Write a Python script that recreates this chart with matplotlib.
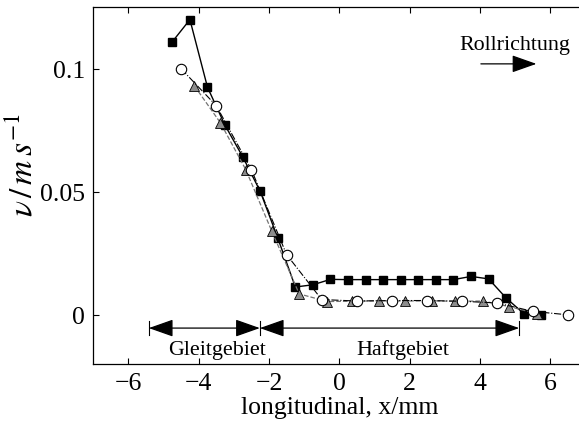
import matplotlib
matplotlib.use("Agg")
import matplotlib.pyplot as plt
import numpy as np

# measured velocities along the contact patch
sq_x = [-4.75, -4.25, -3.75, -3.25, -2.75, -2.25, -1.75, -1.25, -0.75, -0.25,
        0.25, 0.75, 1.25, 1.75, 2.25, 2.75, 3.25, 3.75, 4.25, 4.75, 5.25, 5.75]
sq_y = [0.111, 0.120, 0.0925, 0.077, 0.0643, 0.0502, 0.0312, 0.0113, 0.0122, 0.0144,
        0.0143, 0.0143, 0.0143, 0.0143, 0.0143, 0.0143, 0.0143, 0.0156, 0.0146, 0.0068,
        0.0005, 0.0]

ci_x = [-4.5, -3.5, -2.5, -1.5, -0.5, 0.5, 1.5, 2.5, 3.5, 4.5, 5.5, 6.5]
ci_y = [0.100, 0.085, 0.059, 0.0245, 0.0062, 0.0056, 0.0058, 0.0058, 0.0055, 0.0048,
        0.0014, 0.0]

tr_x = [-4.12, -3.38, -2.66, -1.92, -1.14, -0.34, 0.36, 1.13, 1.86, 2.63, 3.3, 4.1,
        4.84, 5.62]
tr_y = [0.093, 0.078, 0.059, 0.034, 0.0085, 0.0054, 0.0055, 0.0057, 0.0056, 0.0057,
        0.0055, 0.0056, 0.0033, 0.0005]

x_ticks = [-6, -4, -2, 0, 2, 4, 6]
y_ticks = [0, 0.05, 0.1]
y_tick_labels = ["0", "0.05", "0.1"]

# zone boundaries (mm)
gleit_start, zone_split, haft_end = -5.42, -2.26, 5.12

plt.rcParams["font.family"] = ["Liberation Serif", "DejaVu Serif"]
plt.rcParams["mathtext.fontset"] = "stix"

fig = plt.figure(figsize=(5.79, 4.27), dpi=100)
ax = fig.add_axes([0.1611, 0.1452, 0.8497, 0.8354])

ax.plot(sq_x, sq_y, "-", color="k", lw=1.0, marker="s", ms=6,
        mfc="k", mec="k", zorder=3)
ax.plot(tr_x, tr_y, "--", color="0.45", lw=0.9, marker="^", ms=7.5,
        mfc="0.55", mec="k", mew=0.6, zorder=4)
ax.plot(ci_x, ci_y, "-.", color="k", lw=0.8, marker="o", ms=7.5,
        mfc="white", mec="k", mew=0.8, zorder=5)

# zone arrows
arrow_y = -0.0054
head = dict(arrowstyle="<|-|>,head_length=0.85,head_width=0.3",
            mutation_scale=18, color="k", lw=0.9, shrinkA=0, shrinkB=0)
ax.annotate("", xy=(zone_split, arrow_y), xytext=(gleit_start, arrow_y),
            arrowprops=head)
ax.annotate("", xy=(haft_end, arrow_y), xytext=(zone_split, arrow_y),
            arrowprops=head)
for xb in (gleit_start, zone_split, haft_end):
    ax.plot([xb, xb], [arrow_y - 0.0027, arrow_y + 0.0027], color="k", lw=0.8)

ax.text(-3.49, -0.0141, "Gleitgebiet", ha="center", va="center", fontsize=15.8)
ax.text(1.81, -0.0141, "Haftgebiet", ha="center", va="center", fontsize=15.8)

ax.text(5.0, 0.1098, "Rollrichtung", ha="center", va="center", fontsize=15.8)
ax.annotate("", xy=(5.61, 0.102), xytext=(4.03, 0.102),
            arrowprops=dict(arrowstyle="-|>,head_length=0.85,head_width=0.3",
                            mutation_scale=18, color="k", lw=0.9,
                            shrinkA=0, shrinkB=0))

ax.set_xlim(-7, 7)
ax.set_ylim(-0.02, 0.125)
ax.set_xticks(x_ticks)
ax.set_xticklabels([f"{t}".replace("-", "\u2212") for t in x_ticks])
ax.set_yticks(y_ticks)
ax.set_yticklabels(y_tick_labels)
ax.tick_params(direction="in", length=4, width=0.8, top=True, right=True,
               labelsize=18.5, pad=6)
for s in ax.spines.values():
    s.set_linewidth(0.9)

ax.set_xlabel("longitudinal, x/mm", fontsize=18.5, labelpad=1)
ax.set_ylabel(r"$\nu\,/\,m\,s^{-1}$", fontsize=24)
ax.yaxis.set_label_coords(-0.11, 0.56)

fig.savefig("out.png", dpi=100)
